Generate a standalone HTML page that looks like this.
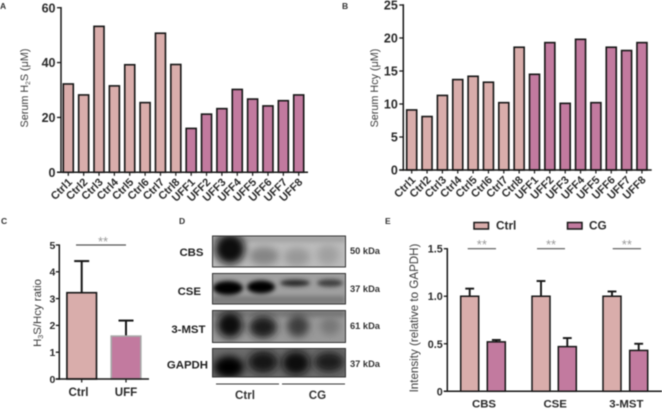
<!DOCTYPE html>
<html>
<head>
<meta charset="utf-8">
<style>
html,body{margin:0;padding:0;background:#fff;width:662px;height:409px;overflow:hidden}
svg{display:block;font-family:"Liberation Sans",sans-serif}
#plot-root{filter:blur(.45px)}
</style>
</head>
<body>
<svg id="chart" width="662" height="409" viewBox="0 0 662 409" xmlns="http://www.w3.org/2000/svg">
<defs>
<filter id="b2" x="-40%" y="-60%" width="180%" height="220%"><feGaussianBlur stdDeviation="2"/></filter>
<filter id="b4" x="-40%" y="-60%" width="180%" height="220%"><feGaussianBlur stdDeviation="4"/></filter>
<clipPath id="c1"><rect x="212" y="236" width="133" height="31"/></clipPath>
<clipPath id="c2"><rect x="212" y="273" width="133" height="31"/></clipPath>
<clipPath id="c3"><rect x="212" y="310" width="133" height="32"/></clipPath>
<clipPath id="c4"><rect x="212" y="348" width="133" height="29"/></clipPath>
</defs>
<g id="plot-root">
<g id="panel-a"></g>
<g id="panel-b"></g>
<g id="panel-c"></g>
<g id="panel-e"></g>

<g id="panel-d">
  <g clip-path="url(#c1)">
    <rect x="212" y="236" width="133" height="31" fill="#bcbcbc"/>
    <rect x="212" y="236" width="133" height="6" fill="#909090" opacity=".6" filter="url(#b2)"/>
    <ellipse cx="230" cy="249" rx="15" ry="15" fill="#0a0a0a" filter="url(#b4)"/>
    <ellipse cx="264" cy="256" rx="15" ry="9" fill="#858585" filter="url(#b4)"/>
    <ellipse cx="297" cy="257" rx="13" ry="9" fill="#989898" filter="url(#b4)"/>
    <ellipse cx="328" cy="255" rx="11" ry="10" fill="#a0a0a0" filter="url(#b4)"/>
  </g>
  <rect x="212.5" y="236" width="133" height="31" fill="none" stroke="#333" stroke-width="1"/>
  <g clip-path="url(#c2)">
    <rect x="212" y="273" width="133" height="31" fill="#a0a0a0"/>
    <rect x="212" y="296" width="133" height="8" fill="#7c7c7c" filter="url(#b2)"/>
    <ellipse cx="228" cy="288" rx="15" ry="7" fill="#000" filter="url(#b2)"/>
    <ellipse cx="261" cy="287" rx="14" ry="6.5" fill="#000" filter="url(#b2)"/>
    <ellipse cx="295" cy="283" rx="15" ry="3.4" fill="#282828" filter="url(#b2)"/>
    <ellipse cx="330" cy="283" rx="13" ry="3.8" fill="#3c3c3c" filter="url(#b2)"/>
  </g>
  <rect x="212.5" y="273.5" width="133" height="30.5" fill="none" stroke="#333" stroke-width="1"/>
  <g clip-path="url(#c3)">
    <rect x="212" y="310" width="133" height="32" fill="#9a9a9a"/>
    <rect x="212" y="310" width="133" height="7" fill="#666" opacity=".7" filter="url(#b2)"/>
    <ellipse cx="230" cy="325" rx="13" ry="13" fill="#0c0c0c" filter="url(#b4)"/>
    <ellipse cx="263" cy="327" rx="14" ry="11" fill="#1e1e1e" filter="url(#b4)"/>
    <ellipse cx="298" cy="326" rx="11" ry="11" fill="#3c3c3c" filter="url(#b4)"/>
    <ellipse cx="330" cy="326" rx="10" ry="9" fill="#777" filter="url(#b4)"/>
  </g>
  <rect x="212.5" y="310.5" width="133" height="32" fill="none" stroke="#333" stroke-width="1"/>
  <g clip-path="url(#c4)">
    <rect x="212" y="348" width="133" height="29" fill="#6c6c6c"/>
    <ellipse cx="229" cy="367" rx="15" ry="11" fill="#000" filter="url(#b4)"/>
    <ellipse cx="263" cy="362" rx="15" ry="11" fill="#141414" filter="url(#b4)"/>
    <ellipse cx="296" cy="363" rx="14" ry="12" fill="#0c0c0c" filter="url(#b4)"/>
    <ellipse cx="329" cy="362" rx="15" ry="10" fill="#1e1e1e" filter="url(#b4)"/>
  </g>
  <rect x="212.5" y="348.5" width="133" height="28.5" fill="none" stroke="#333" stroke-width="1"/>
  <g font-weight="bold" font-size="11.4" fill="#222" text-anchor="end">
    <text x="203.5" y="256">CBS</text>
    <text x="201" y="295">CSE</text>
    <text x="205.5" y="333">3-MST</text>
    <text x="208" y="368.5">GAPDH</text>
  </g>
  <g font-weight="bold" font-size="9.3" fill="#333">
    <text x="350" y="254">50 kDa</text>
    <text x="350" y="292">37 kDa</text>
    <text x="350" y="329">61 kDa</text>
    <text x="350" y="367">37 kDa</text>
  </g>
  <line x1="216" x2="279" y1="384" y2="384" stroke="#333" stroke-width="1.1"/>
  <line x1="282" x2="345" y1="384" y2="384" stroke="#333" stroke-width="1.1"/>
  <text x="245" y="399" text-anchor="middle" font-weight="bold" font-size="11.6" fill="#333">Ctrl</text>
  <text x="317.5" y="399" text-anchor="middle" font-weight="bold" font-size="11.6" fill="#333">CG</text>
</g>

<g font-weight="bold" font-size="8.5" fill="#333">
  <text x="0" y="9">A</text>
  <text x="342" y="9">B</text>
  <text x="1" y="224">C</text>
  <text x="179" y="224">D</text>
  <text x="385" y="224">E</text>
</g>
</g>
</svg>
<script>
var barCategories = ["Ctrl1","Ctrl2","Ctrl3","Ctrl4","Ctrl5","Ctrl6","Ctrl7","Ctrl8","UFF1","UFF2","UFF3","UFF4","UFF5","UFF6","UFF7","UFF8"];
var serumH2S = [32.2,28.2,53.2,31.5,39.2,25.4,50.7,39.3,16,21.2,23.2,30.2,26.7,24.2,26.1,28.2];
var serumHcy = [9.1,8.1,11.3,13.7,14.2,13.3,10.2,18.6,14.5,19.3,10.1,19.8,10.2,18.6,18.1,19.3];
var h2sTicks = [0,20,40,60];
var hcyTicks = [0,5,10,15,20,25];
var ratioCategories = ["Ctrl","UFF"];
var ratioValues = [3.22,1.6];
var ratioErrors = [1.18,0.58];
var ratioTicks = [0,1,2,3,4,5];
var proteinCategories = ["CBS","CSE","3-MST"];
var ctrlIntensity = [1.0,1.0,1.0];
var ctrlErrors = [0.08,0.16,0.05];
var cgIntensity = [0.52,0.47,0.43];
var cgErrors = [0.02,0.09,0.07];
var intensityTicks = ["0","0.5","1.0","1.5"];

var NS = "http://www.w3.org/2000/svg";
var CTRL = "#d9adab", UFF = "#c27a9f", INK = "#161616", TXT = "#2a2a2a";

function mk(parent, tag, attrs, text) {
  var e = document.createElementNS(NS, tag);
  for (var k in attrs) e.setAttribute(k, attrs[k]);
  if (text !== undefined) e.textContent = text;
  parent.appendChild(e);
  return e;
}
function linear(d0, d1, r0, r1) {
  return function (v) { return r0 + (v - d0) * (r1 - r0) / (d1 - d0); };
}
function hLine(parent, x1, x2, y, w, color, name) {
  var e = mk(parent, "line", {x1: x1, x2: x2, y1: y, y2: y, stroke: color, "stroke-width": w});
  
  
  return e;
}
function vLine(parent, x, y1, y2, w, color, name) {
  var e = mk(parent, "line", {x1: x, x2: x, y1: y1, y2: y2, stroke: color, "stroke-width": w});
  
  
  return e;
}
function label(parent, x, y, str, size, anchor, weight, name, color) {
  var e = mk(parent, "text", {x: x, y: y, "font-size": size, "text-anchor": anchor, "font-weight": weight, fill: color || TXT}, str);
  
  
  return e;
}
function drawBar(parent, x, w, y0, yv, fill, stroke, sw, name) {
  var e = mk(parent, "rect", {x: x, y: yv, width: w, height: y0 - yv, fill: fill, stroke: stroke, "stroke-width": sw});
  
  
  return e;
}
function rotatedTitle(parent, x, y, size, parts, name) {
  var e = mk(parent, "text", {transform: "translate(" + x + "," + y + ") rotate(-90)", "font-size": size, "text-anchor": "middle", fill: "#3c3c3c"});
  
  
  parts.forEach(function (p) {
    mk(e, "tspan", p.sub ? {"font-size": size * 0.62, dy: 2} : {dy: p.after ? -2 : 0}, p.t);
  });
  return e;
}

function sampleChart(id, values, ticks, maxV, axisX, axisEnd, yTop, yZero, firstCx, step, tickSize, titleX, titleParts, prefix) {
  var g = document.getElementById(id);
  var y = linear(0, maxV, yZero, yTop);
  var x = function (i) { return firstCx + i * step; };
  values.forEach(function (v, i) {
    drawBar(g, x(i) - 5, 10, yZero, y(v), i < 8 ? CTRL : UFF, INK, 1.6, prefix + "-bar-" + barCategories[i].toLowerCase());
    vLine(g, x(i), yZero, yZero + 3.5, 1.2, INK, prefix + "-x-tick");
    var lx = x(i) + 4.5, ly = yZero + 10.5;
    var lab = label(g, lx, ly, barCategories[i], 11, "end", "bold", prefix + "-x-label");
    lab.setAttribute("transform", "rotate(-45 " + lx + " " + ly + ")");
  });
  vLine(g, axisX, yTop - .7, yZero + .7, 1.5, INK, prefix + "-y-axis");
  hLine(g, axisX - 4, axisEnd, yZero, 1.5, INK, prefix + "-x-axis");
  ticks.forEach(function (t) {
    hLine(g, axisX - 4, axisX, y(t), 1.3, INK, prefix + "-y-tick");
    label(g, axisX - 5.5, y(t) + 4.6, String(t), tickSize, "end", "bold", prefix + "-y-label");
  });
  rotatedTitle(g, titleX, 88, 10.8, titleParts, prefix + "-y-title");
}

sampleChart("panel-a", serumH2S, h2sTicks, 60, 61, 308, 7.7, 172.3, 68.3, 15.36, 12.5, 28,
  [{t: "Serum H"}, {t: "2", sub: true}, {t: "S (μM)", after: true}], "h2s");
sampleChart("panel-b", serumHcy, hcyTicks, 25, 403.3, 651.7, 5, 170, 411.7, 15.35, 12.5, 378,
  [{t: "Serum Hcy (μM)"}], "hcy");

(function () {
  var g = document.getElementById("panel-c");
  var yZero = 379, yTop = 245, axisX = 59.3;
  var y = linear(0, 5, yZero, yTop);
  var cx = [81.7, 126];
  var lx = [78.5, 126];
  ratioValues.forEach(function (v, i) {
    vLine(g, cx[i], y(v + ratioErrors[i]), y(v), 2, INK, "ratio-error-stem");
    hLine(g, cx[i] - 7.5, cx[i] + 7.5, y(v + ratioErrors[i]), 2, INK, "ratio-error-cap");
    drawBar(g, cx[i] - 14.8, 29.6, yZero, y(v), i === 0 ? CTRL : UFF, i === 0 ? INK : "#a8a8a8", 1.6, "ratio-bar-" + ratioCategories[i].toLowerCase());
    vLine(g, cx[i], yZero, yZero + 3.5, 1.2, INK, "ratio-x-tick");
    label(g, lx[i], yZero + 17, ratioCategories[i], 11.6, "middle", "bold", "ratio-x-label");
  });
  vLine(g, axisX, yTop - .6, yZero + .7, 1.5, INK, "ratio-y-axis");
  hLine(g, axisX - 3.5, 149, yZero, 1.5, INK, "ratio-x-axis");
  ratioTicks.forEach(function (t) {
    hLine(g, axisX - 3.5, axisX, y(t), 1.3, INK, "ratio-y-tick");
    label(g, axisX - 4, y(t) + 3.8, String(t), 10.5, "end", "bold", "ratio-y-label");
  });
  rotatedTitle(g, 41, 313, 11.4, [{t: "H"}, {t: "3", sub: true}, {t: "S/Hcy ratio", after: true}], "ratio-y-title");
  hLine(g, 76, 126, 245, 1.2, "#555", "ratio-significance-line");
  label(g, 103, 246, "**", 13, "middle", "normal", "ratio-significance-stars", "#999");
})();

(function () {
  var g = document.getElementById("panel-e");
  var yZero = 391.3, yTop = 248.7, axisX = 447.3;
  var y = linear(0, 1.5, yZero, yTop);
  var ctrlX = [469.7, 541, 612];
  var cgX = [496.3, 567.3, 638.7];
  var sigX = [[467.7, 496], [537, 565], [612.7, 641]];
  proteinCategories.forEach(function (p, i) {
    var yc = y(ctrlIntensity[i] + ctrlErrors[i]);
    vLine(g, ctrlX[i], yc, y(ctrlIntensity[i]), 1.9, INK, "ctrl-error-stem");
    hLine(g, ctrlX[i] - 4.4, ctrlX[i] + 4.4, yc, 1.9, INK, "ctrl-error-cap");
    var yg = y(cgIntensity[i] + cgErrors[i]);
    vLine(g, cgX[i], yg, y(cgIntensity[i]), 1.9, INK, "cg-error-stem");
    hLine(g, cgX[i] - 4.4, cgX[i] + 4.4, yg, 1.9, INK, "cg-error-cap");
    drawBar(g, ctrlX[i] - 9, 18, yZero, y(ctrlIntensity[i]), CTRL, INK, 1.5, "ctrl-bar-" + p.toLowerCase());
    drawBar(g, cgX[i] - 9, 18, yZero, y(cgIntensity[i]), UFF, INK, 1.5, "cg-bar-" + p.toLowerCase());
    label(g, (ctrlX[i] + cgX[i]) / 2 + 1, 407.5, p, 11.4, "middle", "bold", "protein-x-label");
    hLine(g, sigX[i][0], sigX[i][1], 248.7, 1.2, "#555", "protein-significance-line");
    label(g, (sigX[i][0] + sigX[i][1]) / 2, 249, "**", 13, "middle", "normal", "protein-significance-stars", "#999");
  });
  vLine(g, axisX, yTop - .6, yZero + .7, 1.5, INK, "intensity-y-axis");
  hLine(g, axisX - 3.5, 662, yZero, 1.5, INK, "intensity-x-axis");
  intensityTicks.forEach(function (t) {
    hLine(g, axisX - 3.5, axisX, y(parseFloat(t)), 1.3, INK, "intensity-y-tick");
    label(g, axisX - 4.5, y(parseFloat(t)) + 4, t, 10.8, "end", "bold", "intensity-y-label");
  });
  rotatedTitle(g, 418, 318, 11.6, [{t: "Intensity (relative to GAPDH)"}], "intensity-y-title");
  var s1 = mk(g, "rect", {x: 474, y: 222.5, width: 14.5, height: 6.5, fill: CTRL, stroke: INK, "stroke-width": 1.5});
  
  
  label(g, 496, 229.5, "Ctrl", 11.8, "start", "bold", "legend-ctrl-label");
  var s2 = mk(g, "rect", {x: 567.5, y: 222.5, width: 14.5, height: 6.5, fill: UFF, stroke: INK, "stroke-width": 1.5});
  
  
  label(g, 589, 229.5, "CG", 11.8, "start", "bold", "legend-cg-label");
})();
</script>
</body>
</html>
